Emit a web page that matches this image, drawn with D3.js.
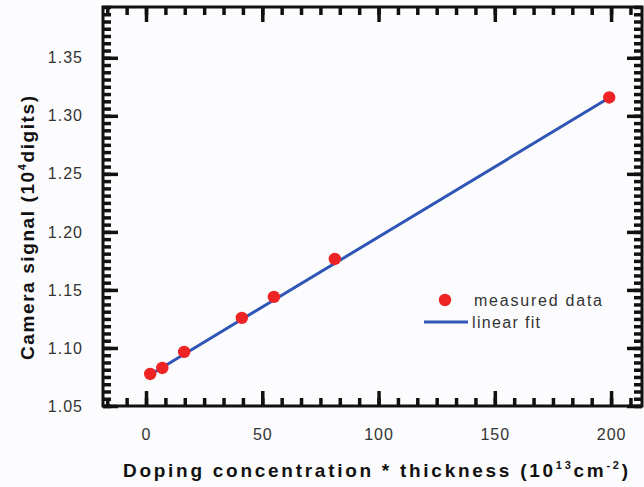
<!DOCTYPE html>
<html><head><meta charset="utf-8">
<script src="https://cdn.jsdelivr.net/npm/d3@7"></script>
<style>
html,body{margin:0;padding:0;background:#fcfcfe;}
svg{display:block;}
</style></head>
<body>
<svg id="chart" width="644" height="487"></svg>
<script>
// ---- data ----
const dopingThickness = [1.8, 7, 16.4, 41.2, 55, 81.2, 199.2];
const cameraSignal = [1.0776, 1.0828, 1.0966, 1.1259, 1.1440, 1.1767, 1.3158];
const fitX = [1.8, 199.2];
const fitY = [1.0770, 1.3155];
const xTicks = [0, 50, 100, 150, 200];
const yTicks = [1.05, 1.10, 1.15, 1.20, 1.25, 1.30, 1.35];
const legendLabels = ["measured data", "linear fit"];

const svg = d3.select("#chart");
const L = 103, R = 642, T = 7, B = 406;
const x = d3.scaleLinear().domain([-18.5, 213.3]).range([L, R]);
const y = d3.scaleLinear().domain([1.05, 1.05 + 0.05 * 55 / 8]).range([B, T]);

const minorX = d3.range(-2, 26).map(i => i * 50 / 6).filter(v => v >= -18.5 && v <= 213.3);
const minorY = d3.range(0, 56).map(i => 1.05 + i * 0.05 / 8);

const font = "'Liberation Sans', Arial, sans-serif";
const tickStroke = "#111";

function styleAxis(g) {
  g.selectAll("path.domain").remove();
  g.selectAll(".tick line").attr("stroke", tickStroke).attr("stroke-width", 3.5).attr("x1", 0).attr("y1", 0);
  g.selectAll(".tick text").style("fill", "#333").style("font-family", font)
    .style("font-size", "16px").style("letter-spacing", "1px");
}
function addAxis(axis, tx, ty) {
  svg.append("g").attr("transform", `translate(${tx},${ty})`).call(axis).call(styleAxis);
}
// minor ticks (inward)
addAxis(d3.axisBottom(x).tickValues(minorX).tickSize(-8).tickFormat(() => ""), 0, B);
addAxis(d3.axisTop(x).tickValues(minorX).tickSize(-8).tickFormat(() => ""), 0, T);
addAxis(d3.axisLeft(y).tickValues(minorY).tickSize(-8).tickFormat(() => ""), L, 0);
addAxis(d3.axisRight(y).tickValues(minorY).tickSize(-8).tickFormat(() => ""), R, 0);
// major ticks (inward) with labels
addAxis(d3.axisBottom(x).tickValues(xTicks).tickSize(-15).tickPadding(23).tickFormat(d3.format("d")), 0, B);
addAxis(d3.axisTop(x).tickValues(xTicks).tickSize(-15).tickFormat(() => ""), 0, T);
addAxis(d3.axisLeft(y).tickValues(yTicks).tickSize(-15).tickPadding(20).tickFormat(d3.format(".2f")), L, 0);
addAxis(d3.axisRight(y).tickValues(yTicks).tickSize(-15).tickFormat(() => ""), R, 0);

// frame
svg.append("rect").attr("x", L).attr("y", T).attr("width", R - L).attr("height", B - T)
  .attr("fill", "none").attr("stroke", "#111").attr("stroke-width", 3);

// fit line
const lineGen = d3.line().x(d => x(d[0])).y(d => y(d[1]));
svg.append("path").datum(d3.zip(fitX, fitY)).attr("d", lineGen)
  .attr("fill", "none").attr("stroke", "#2f55b5").attr("stroke-width", 3);

// points
svg.append("g").selectAll("circle").data(d3.zip(dopingThickness, cameraSignal)).join("circle")
  .attr("cx", d => x(d[0])).attr("cy", d => y(d[1])).attr("r", 6.2).attr("fill", "#ee2424");

// legend
svg.append("circle").attr("cx", 445).attr("cy", 300).attr("r", 6.2).attr("fill", "#ee2424");
svg.append("line").attr("x1", 424).attr("x2", 468).attr("y1", 322).attr("y2", 322)
  .attr("stroke", "#2f55b5").attr("stroke-width", 3);
svg.append("text").attr("x", 474).attr("y", 306).text(legendLabels[0])
  .attr("textLength", 128).attr("lengthAdjust", "spacing")
  .style("font-family", font).style("font-size", "16px").attr("fill", "#333");
svg.append("text").attr("x", 472).attr("y", 328).text(legendLabels[1])
  .attr("textLength", 68).attr("lengthAdjust", "spacing")
  .style("font-family", font).style("font-size", "16px").attr("fill", "#333");

// axis titles
const xt = svg.append("text").attr("x", 123).attr("y", 477)
  .attr("textLength", 505).attr("lengthAdjust", "spacing")
  .style("font-family", font).style("font-size", "19px").style("font-weight", "bold").attr("fill", "#111");
xt.append("tspan").text("Doping concentration * thickness (10");
xt.append("tspan").text("13").attr("dy", -8).style("font-size", "11px");
xt.append("tspan").text("cm").attr("dy", 8);
xt.append("tspan").text("-2").attr("dy", -8).style("font-size", "11px");
xt.append("tspan").text(")").attr("dy", 8);

const yt = svg.append("text").attr("transform", "translate(34,360) rotate(-90)")
  .attr("textLength", 264).attr("lengthAdjust", "spacing")
  .style("font-family", font).style("font-size", "19px").style("font-weight", "bold").attr("fill", "#111");
yt.append("tspan").text("Camera signal (10");
yt.append("tspan").text("4").attr("dy", -8).style("font-size", "11px");
yt.append("tspan").text("digits)").attr("dy", 8);
</script>
</body></html>
